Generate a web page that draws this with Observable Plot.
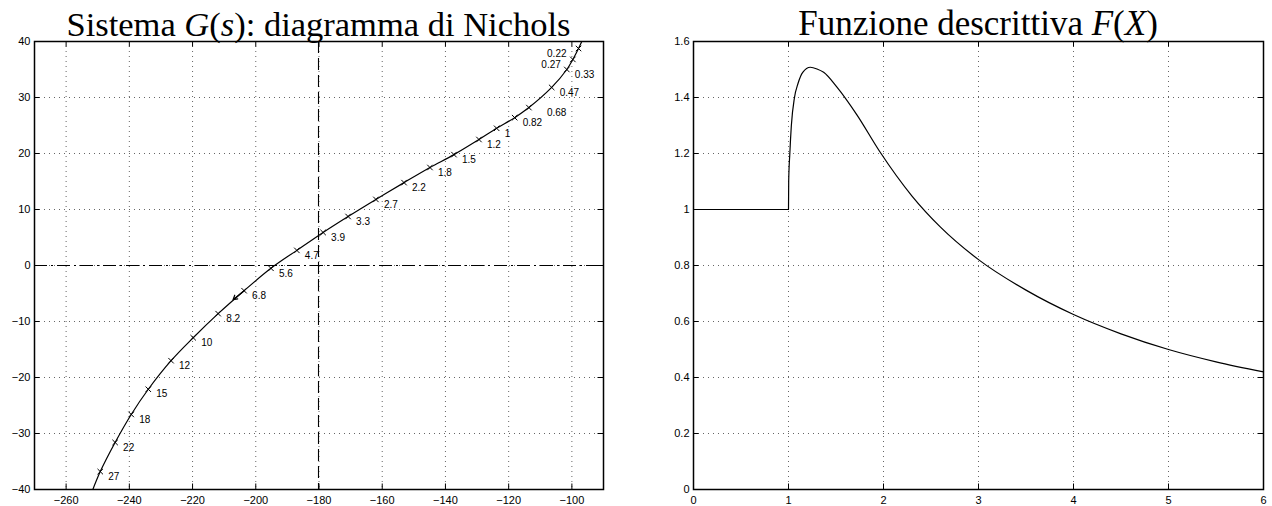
<!DOCTYPE html>
<html><head><meta charset="utf-8">
<script src="https://cdn.jsdelivr.net/npm/d3@7"></script>
<script src="https://cdn.jsdelivr.net/npm/@observablehq/plot@0.6"></script>
<style>
html,body{margin:0;padding:0;background:#fff;}
#wrap{display:flex;width:1272px;height:506px;overflow:hidden;}
.panel{width:636px;height:506px;position:relative;}
.title{box-sizing:border-box;height:36px;padding-top:8.5px;line-height:30px;font-family:"Liberation Serif","Times New Roman",serif;font-size:34.5px;white-space:nowrap;color:#000;text-align:center;}
#t1{padding-left:1px;}
#t2{padding-left:48px;font-size:35px;}
.panel svg{display:block;}
</style></head><body>
<div id="wrap">
<div class="panel" id="left"><div class="title" id="t1">Sistema <i>G</i>(<i>s</i>): diagramma di Nichols</div></div>
<div class="panel" id="right"><div class="title" id="t2">Funzione descrittiva <i>F</i>(<i>X</i>)</div></div>
</div>
<script>
// ---- Left chart: Nichols diagram of G(s) ----
const freqLabels = ["0.22","0.27","0.33","0.47","0.68","0.82","1","1.2","1.5","1.8","2.2","2.7","3.3","3.9","4.7","5.6","6.8","8.2","10","12","15","18","22","27"];
const phaseDeg = [-97.9,-99.7,-101.6,-106.4,-113.6,-118.1,-123.8,-129.4,-137.3,-144.9,-153.1,-162.0,-170.8,-178.7,-187.0,-195.2,-203.7,-211.9,-219.8,-226.8,-234.0,-239.4,-244.5,-249.2];
const magDb = [38.75,36.8,35.0,31.8,28.2,26.4,24.5,22.5,19.8,17.5,14.8,11.8,8.75,5.9,2.7,-0.5,-4.5,-8.6,-12.9,-17.0,-22.1,-26.6,-31.6,-36.8];
const curveTopEnd = [-95.3, 42];
const curveBottomEnd = [-252.9, -42];
const arrowFrom = [-203.7, -4.5];
const arrowTo = [-207.2, -6.1];
const leftSideLabels = ["0.22","0.27"];
const farRightLabels = ["0.68"];
const nicholsXTicks = [-260,-240,-220,-200,-180,-160,-140,-120,-100];
const nicholsYTicks = [-40,-30,-20,-10,0,10,20,30,40];
const nicholsXDomain = [-270, -90];
const nicholsYDomain = [-40, 40];
const criticalPhase = [-180];
const zeroDb = [0];

// ---- Right chart: describing function F(X) ----
const amplitudeX = [0,1,1.002,1.014,1.03,1.063,1.1,1.15,1.23,1.3,1.37,1.51,1.72,1.96,2.3,2.6,3,3.5,4,4.5,5,5.5,6];
const describingF = [1,1,1.1,1.2,1.3,1.4,1.45,1.49,1.508,1.502,1.49,1.437,1.338,1.207,1.048,0.937,0.821,0.712,0.625,0.556,0.50,0.456,0.42];
const fXTicks = [0,1,2,3,4,5,6];
const fYTicks = [0,0.2,0.4,0.6,0.8,1,1.2,1.4,1.6];

const nichols = freqLabels.map((f, i) => ({f, phase: phaseDeg[i], mag: magDb[i]}));
const nicholsPath = [
  {phase: curveTopEnd[0], mag: curveTopEnd[1]},
  ...nichols,
  {phase: curveBottomEnd[0], mag: curveBottomEnd[1]}
];
const fData = amplitudeX.map((x, i) => ({x, F: describingF[i]}));

const H = 470, MT = 5, MB = 17;
const plotH = H - MT - MB;
const TICK = 5.5;
const gridStyle = {stroke: "#666", strokeWidth: 1, strokeDasharray: "1,4"};
const fontStyle = {fontFamily: "'Liberation Sans', Arial, Helvetica, sans-serif", fontSize: "11px", color: "black", background: "white", overflow: "visible"};

function innerTicks(xt, yt, plotW) {
  return [
    Plot.tickX(xt, {x: d => d, insetTop: plotH - TICK, stroke: "black", strokeWidth: 1}),
    Plot.tickX(xt, {x: d => d, insetBottom: plotH - TICK, stroke: "black", strokeWidth: 1}),
    Plot.tickY(yt, {y: d => d, insetRight: plotW - TICK, stroke: "black", strokeWidth: 1}),
    Plot.tickY(yt, {y: d => d, insetLeft: plotW - TICK, stroke: "black", strokeWidth: 1})
  ];
}

// Left plot
{
  const ML = 34, MR = 33, W = 636;
  const plotW = W - ML - MR;
  const interiorX = nicholsXTicks.filter(d => d > nicholsXDomain[0] && d < nicholsXDomain[1]);
  const interiorY = nicholsYTicks.filter(d => d > nicholsYDomain[0] && d < nicholsYDomain[1]);
  const plot = Plot.plot({
    width: W, height: H,
    marginLeft: ML, marginRight: MR, marginTop: MT, marginBottom: MB,
    style: fontStyle,
    x: {domain: nicholsXDomain, ticks: nicholsXTicks, tickSize: 0, tickPadding: 7, label: null},
    y: {domain: nicholsYDomain, ticks: nicholsYTicks, tickSize: 0, tickPadding: 4, label: null},
    marks: [
      Plot.ruleX(interiorX, {x: d => d, ...gridStyle}),
      Plot.ruleY(interiorY, {y: d => d, ...gridStyle}),
      Plot.ruleX(criticalPhase, {x: d => d, dx: -0.5, stroke: "black", strokeWidth: 1.1, strokeDasharray: "12,5"}),
      Plot.ruleY(zeroDb, {y: d => d, stroke: "black", strokeWidth: 1, strokeDasharray: "13,4,2,4"}),
      Plot.line(nicholsPath, {x: "phase", y: "mag", curve: "catmull-rom", clip: true, stroke: "black", strokeWidth: 1.2}),
      Plot.dot(nichols, {x: "phase", y: "mag", symbol: "times", r: 2.6, stroke: "black", strokeWidth: 1}),
      Plot.arrow([{}], {x1: () => arrowFrom[0], y1: () => arrowFrom[1], x2: () => arrowTo[0], y2: () => arrowTo[1], stroke: "black", strokeWidth: 1.2, headLength: 11, headAngle: 60}),
      Plot.text(nichols.filter(d => !leftSideLabels.includes(d.f) && !farRightLabels.includes(d.f)), {x: "phase", y: "mag", text: "f", textAnchor: "start", dx: 8, dy: 5, fontSize: 10, fill: "black"}),
      Plot.text(nichols.filter(d => farRightLabels.includes(d.f)), {x: "phase", y: "mag", text: "f", textAnchor: "start", dx: 18, dy: 5, fontSize: 10, fill: "black"}),
      Plot.text(nichols.filter(d => leftSideLabels.includes(d.f)), {x: "phase", y: "mag", text: "f", textAnchor: "end", dx: -12, dy: 5, fontSize: 10, fill: "black"}),
      ...innerTicks(nicholsXTicks, nicholsYTicks, plotW),
      Plot.frame({stroke: "black", strokeWidth: 1.5})
    ]
  });
  document.getElementById("left").appendChild(plot);
}

// Right plot
{
  const ML = 57, MR = 9, W = 636;
  const plotW = W - ML - MR;
  const xDom = [fXTicks[0], fXTicks[fXTicks.length - 1]];
  const yDom = [fYTicks[0], fYTicks[fYTicks.length - 1]];
  const interiorX = fXTicks.filter(d => d > xDom[0] && d < xDom[1]);
  const interiorY = fYTicks.filter(d => d > yDom[0] && d < yDom[1]);
  const plot = Plot.plot({
    width: W, height: H,
    marginLeft: ML, marginRight: MR, marginTop: MT, marginBottom: MB,
    style: fontStyle,
    x: {domain: xDom, ticks: fXTicks, tickSize: 0, tickPadding: 7, label: null, tickFormat: d => String(d)},
    y: {domain: yDom, ticks: fYTicks, tickSize: 0, tickPadding: 4, label: null, tickFormat: d => String(d)},
    marks: [
      Plot.ruleX(interiorX, {x: d => d, ...gridStyle}),
      Plot.ruleY(interiorY, {y: d => d, ...gridStyle}),
      Plot.line(fData, {x: "x", y: "F", curve: "monotone-x", stroke: "black", strokeWidth: 1.2}),
      ...innerTicks(fXTicks, fYTicks, plotW),
      Plot.frame({stroke: "black", strokeWidth: 1.5})
    ]
  });
  document.getElementById("right").appendChild(plot);
}
</script>
</body></html>
